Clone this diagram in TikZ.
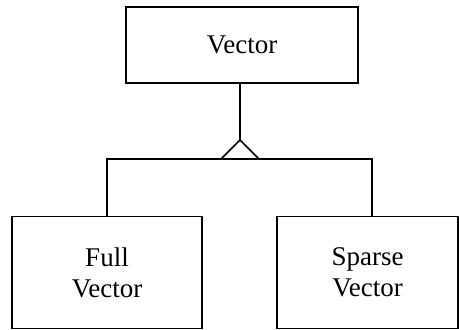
\documentclass[tikz,border=0pt]{standalone}
\usepackage{fontspec}
\setmainfont{Liberation Serif}
\begin{document}
\begin{tikzpicture}[x=1pt,y=-1pt,
  classbox/.style={draw,line width=1.5pt,inner sep=0pt,align=center,
    font=\fontsize{27}{31}\selectfont},
  link/.style={line width=1.5pt}]
\useasboundingbox (0,0) rectangle (459,330);
% classes
\node[classbox,minimum width=232pt,minimum height=76pt] (vec) at (242,45) {Vector};
\node[classbox,minimum width=190pt,minimum height=112pt] (full) at (107,272.5) {Full\\Vector};
\node[classbox,minimum width=181pt,minimum height=112pt] (sparse) at (367.5,272.5) {Sparse\\Vector};
% inheritance triangle and branches
\coordinate (apex) at (240,140);
\coordinate (tl) at (221,159);
\coordinate (tr) at (259,159);
\draw[link] (vec.south -| apex) -- (apex);
\draw[link,line join=miter] (tl) -- (apex) -- (tr);
\draw[link] (full.north -| 107,0) -- (107,159) -- (372,159) -- (sparse.north -| 372,0);
\end{tikzpicture}
\end{document}
